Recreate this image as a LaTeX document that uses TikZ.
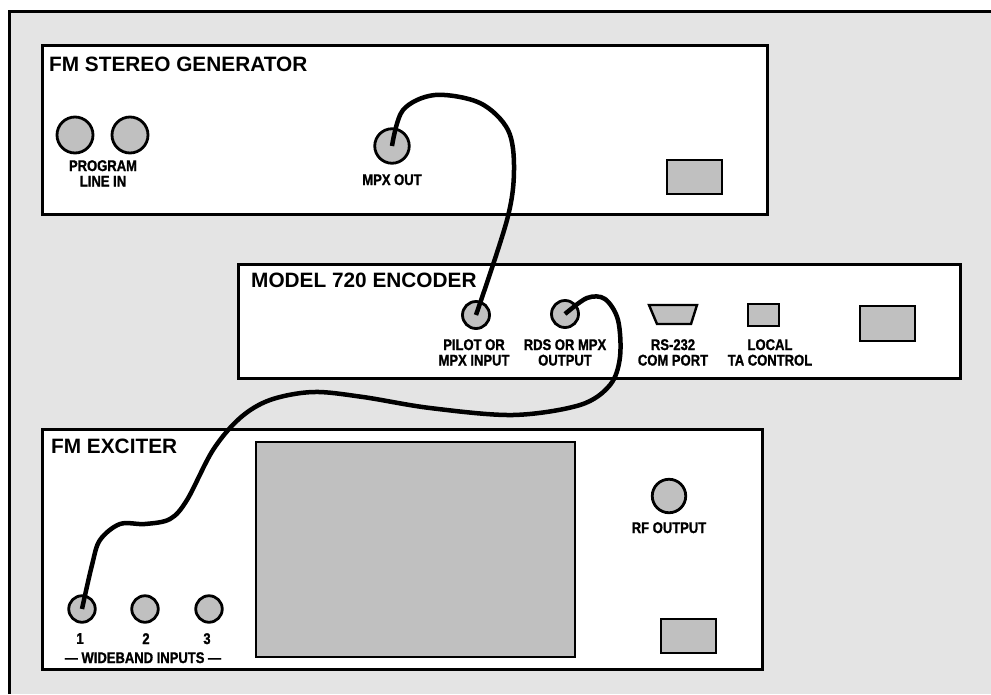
\documentclass[tikz,border=0pt]{standalone}
\usepackage{fontspec}
\setmainfont{Liberation Sans}
\newfontfamily\condfont[FakeStretch=0.84,FakeBold=1.2]{Liberation Sans Bold}
\definecolor{panel}{RGB}{228,228,228}
\definecolor{part}{RGB}{192,192,192}
\begin{document}
\begin{tikzpicture}[x=1pt,y=-1pt,
  unit/.style={rectangle, draw=black, line width=2.8pt, fill=white, inner sep=0pt, anchor=north west},
  jack/.style={circle, draw=black, line width=2.8pt, fill=part, inner sep=0pt},
  partbox/.style={rectangle, draw=black, line width=2.4pt, fill=part, inner sep=0pt, anchor=north west},
  title/.style={anchor=base west, inner sep=0pt, font=\fontsize{20.8}{24}\selectfont\bfseries},
  lbl/.style={anchor=north, inner sep=0pt, align=center, font=\condfont\fontsize{15.5}{15.5}\selectfont},
  cable/.style={draw=black, line width=4.5pt, line join=round}
]
\useasboundingbox (0,0) rectangle (991,694);
\fill[white] (0,0) rectangle (991,694);
\fill[panel] (9,11) rectangle (991,694);
\draw[line width=3pt] (9,694) -- (9,11) -- (991,11);

% units
\node[unit, minimum width=725pt, minimum height=169pt] (gen) at (41,44) {};
\node[unit, minimum width=722pt, minimum height=114pt] (enc) at (237,263) {};
\node[unit, minimum width=720pt, minimum height=240pt] (exc) at (41,428) {};

\node[title] (gentitle) at (49,71) {FM STEREO GENERATOR};
\node[title] (enctitle) at (251,287) {MODEL 720 ENCODER};
\node[title] (exctitle) at (51,453) {FM EXCITER};

% parts
\node[partbox, minimum width=55pt, minimum height=34pt] (genpwr) at (666,159) {};
\node[partbox, minimum width=55pt, minimum height=35pt] (encpwr) at (859,305) {};
\node[partbox, minimum width=31pt, minimum height=22pt] (tasw) at (747,303) {};
\node[partbox, minimum width=55pt, minimum height=34pt] (excpwr) at (660,618) {};
\node[partbox, minimum width=319pt, minimum height=215pt] (display) at (255,441) {};
\draw[draw=black, line width=2.4pt, fill=part, line join=miter] (649,305) -- (697,305) -- (691,324) -- (657,324) -- cycle;

% jacks
\node[jack, minimum size=36pt] (prog1) at (75,135) {};
\node[jack, minimum size=36pt] (prog2) at (130,135) {};
\node[jack, minimum size=34.5pt] (mpx) at (392,146) {};
\node[jack, minimum size=27pt] (pilot) at (476,315) {};
\node[jack, minimum size=27pt] (rds) at (565,314) {};
\node[jack, minimum size=26.5pt] (wb1) at (82,609) {};
\node[jack, minimum size=26.5pt] (wb2) at (145,609) {};
\node[jack, minimum size=26.5pt] (wb3) at (209,609) {};
\node[jack, minimum size=33.5pt] (rf) at (669,496) {};

% labels
\node[lbl] (proglbl) at (103,160) {PROGRAM\\LINE IN};
\node[lbl] (mpxlbl) at (392,174) {MPX OUT};
\node[lbl] (pilotlbl) at (474,339) {PILOT OR\\MPX INPUT};
\node[lbl] (rdslbl) at (565,339) {RDS OR MPX\\OUTPUT};
\node[lbl] (rslbl) at (673,339) {RS-232\\COM PORT};
\node[lbl] (talbl) at (770,339) {LOCAL\\TA CONTROL};
\node[lbl] (rflbl) at (669,522) {RF OUTPUT};
\node[lbl] (n1) at (80,633) {1};
\node[lbl] (n2) at (146,633) {2};
\node[lbl] (n3) at (207,633) {3};
\node[lbl] (wblbl) at (143,652) {— WIDEBAND INPUTS —};

% cables
\draw[cable] plot[smooth, tension=0.55] coordinates {(mpx.center) (403,110) (435,95) (480,103) (508,130) (514,170) (507,220) (pilot.center)};
\draw[cable] plot[smooth, tension=0.55] coordinates {(rds.center) (587,298) (605,299) (618,320) (620,357) (610,385) (580,405) (513,415) (430,408) (363,397) (313,392) (270,400) (240,418) (213,450) (187,500) (170,519) (145,524) (120,524) (100,540) (92,565) (wb1.center)};
\end{tikzpicture}
\end{document}
